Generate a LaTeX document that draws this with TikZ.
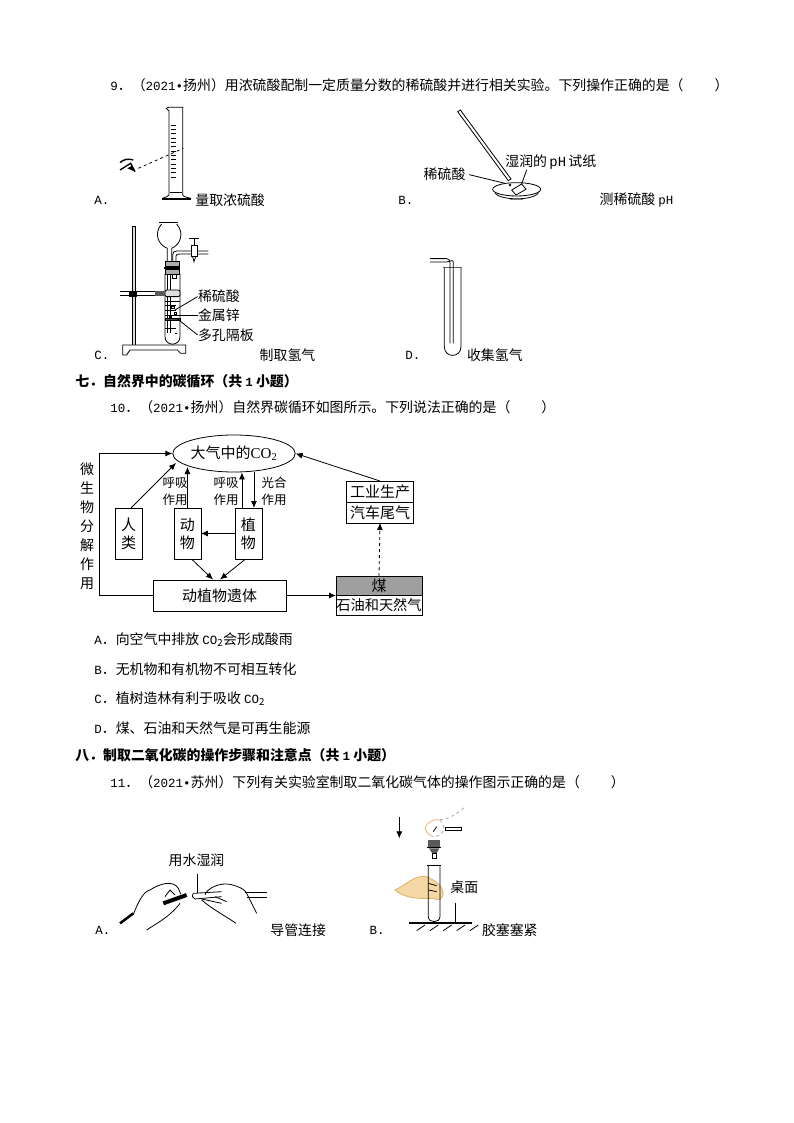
\documentclass[tikz,border=0pt]{standalone}
\usepackage{fontspec}
\setmainfont{Noto Sans CJK SC}
\setmonofont{Liberation Mono}
\newfontfamily\latinserif{Liberation Serif}
\usetikzlibrary{positioning}
\usetikzlibrary{arrows.meta}
\usetikzlibrary{shapes.geometric}
\definecolor{skin}{HTML}{F3CE8C}
\tikzset{>={Latex[length=7pt,width=6pt]}}
\tikzset{txt/.style={anchor=west, inner sep=0pt, font=\fontsize{13.9}{16}\selectfont}}
\tikzset{head/.style={txt, font=\fontsize{13.9}{16}\selectfont\bfseries}}
\tikzset{small/.style={inner sep=0pt, align=center, font=\fontsize{12.5}{17}\selectfont}}
\tikzset{bx/.style={draw, inner sep=0pt, outer sep=0pt, align=center, font=\fontsize{15}{18}\selectfont}}
\tikzset{artq/.style={shift={(70,70)}, x=0.3333pt, y=-0.3333pt}}
\tikzset{artb/.style={shift={(390,70)}, x=0.3333pt, y=-0.3333pt}}
\tikzset{artc/.style={shift={(90,795)}, x=0.3333pt, y=-0.3333pt}}
\newcommand{\lat}[1]{{\ttfamily\fontsize{12.5}{16}\selectfont #1}}

\begin{document}
\begin{tikzpicture}[x=1pt, y=-1pt, line width=0.8pt]
             \useasboundingbox (0,0) rectangle (794,1123);

             \node (q9) [txt] at (110,85) {\lat{9}．（\lat{2021•}扬州）用浓硫酸配制一定质量分数的稀硫酸并进行相关实验。下列操作正确的是（\hspace{31pt}）};
             \node (h7) [head] at (75,381) {七．自然界中的碳循环（共 \lat{1} 小题）};
             \node (q10) [txt] at (110,407) {\lat{10}．（\lat{2021•}扬州）自然界碳循环如图所示。下列说法正确的是（\hspace{31pt}）};
             \node (a10) [txt] at (94,640) {\lat{A}．向空气中排放 \lat{CO}\textsubscript{2}会形成酸雨};
             \node (b10) [txt] at (94,669) {\lat{B}．无机物和有机物不可相互转化};
             \node (c10) [txt] at (94,699) {\lat{C}．植树造林有利于吸收 \lat{CO}\textsubscript{2}};
             \node (d10) [txt] at (94,728) {\lat{D}．煤、石油和天然气是可再生能源};
             \node (h8) [head] at (75,755) {八．制取二氧化碳的操作步骤和注意点（共 \lat{1} 小题）};
             \node (q11) [txt] at (110,782) {\lat{11}．（\lat{2021•}苏州）下列有关实验室制取二氧化碳气体的操作图示正确的是（\hspace{31pt}）};

             % carbon cycle
             \node (co2) [draw, ellipse, minimum width=118pt, minimum height=37pt, inner sep=0pt, font=\fontsize{15}{18}\selectfont] at (234,453.5) {大气中的{\latinserif CO\textsubscript{2}}};
             \node (renlei) [bx, minimum width=27.5pt, minimum height=51pt] at (128.7,533.5) {人\\类};
             \node (dongwu) [bx, minimum width=27pt, minimum height=51pt, right=31.5pt of renlei] {动\\物};
             \node (zhiwu) [bx, minimum width=27pt, minimum height=51pt, right=34pt of dongwu] {植\\物};
             \node (yiti) [bx, minimum width=133pt, minimum height=31pt] at (219.5,595.5) {动植物遗体};
             \node (gongye) [bx, minimum width=67pt, minimum height=21pt] at (380,491.5) {工业生产};
             \node (qiche) [bx, minimum width=67pt, minimum height=21pt, below=0pt of gongye] {汽车尾气};
             \node (mei) [bx, fill=gray!75, minimum width=86pt, minimum height=19pt] at (379,585.5) {煤};
             \node (shiyou) [bx, minimum width=86pt, minimum height=20pt, below=0pt of mei, font=\fontsize{14.2}{16}\selectfont] {石油和天然气};

             \node (huxia) [small] at (175,491.5) {呼吸\\作用};
             \node (huxib) [small] at (226,491.5) {呼吸\\作用};
             \node (guang) [small] at (274,491.5) {光合\\作用};
             \node (weisheng) [inner sep=0pt, align=center, font=\fontsize{14}{19}\selectfont] at (87,526) {微\\生\\物\\分\\解\\作\\用};

             \coordinate (bend) at (99.3,595.5);
             \coordinate (co2a) at (176,463);
             \coordinate (co2b) at (188.5,467);
             \coordinate (yitia) at (213,579.5);
             \coordinate (yitib) at (220,579.5);
             \draw [->] (yiti.west) -- (bend) |- (co2.west);
             \draw [->] (131,508) -- (co2a);
             \draw [->] (dongwu.north) -- (dongwu.north |- co2b);
             \draw [->] ([xshift=-6.5pt]zhiwu.north) -- ([xshift=-6.5pt]zhiwu.north |- co2.south);
             \draw [->] ([xshift=5.5pt]zhiwu.north |- co2.south) -- ([xshift=5.5pt]zhiwu.north);
             \draw [->] (zhiwu.west) -- (dongwu.east);
             \draw [->] (192,559.5) -- (yitia);
             \draw [->] (245,559.5) -- (yitib);
             \draw [->] (yiti.east) -- (yiti.east -| mei.west);
             \draw [->, dashed] (mei.north) -- (qiche.south);
             \draw [->] (gongye.north) -- (co2.east);

             % question 9, A
             \begin{scope}[artq]
                 \draw (288,115) -- (297,122) -- (297,375);
                 \draw (288,115) -- (297,112) -- (338,112) -- (338,375);
                 \draw (297,375) .. controls (295,380) and (285,382) .. (277,385);
                 \draw (338,375) .. controls (340,380) and (352,382) .. (362,385);
                 \draw [line width=1.2pt] (277,387) -- (362,387);
                 \draw (300,368) -- (335,368);
                 \foreach \y in {165,178,...,330} \draw (302,\y) -- (318,\y);
                 \draw [dashed] (205,295) -- (340,235);
                 \draw [line width=1.4pt] (150,278) .. controls (160,268) and (175,265) .. (190,270);
                 \draw [line width=1.4pt] (150,300) -- (182,280) -- (195,305);
                 \fill (172,295) -- (185,288) -- (195,305) -- cycle;
                 \node (labela) [txt] at (72,392) {\lat{A.}};
                 \node (laba) [txt] at (375,392) {量取浓硫酸};

                 % C
                 \draw [fill=gray!30] (187,468) rectangle (196,825);
                 \draw [fill=white] (158,825) -- (347,825) -- (347,850) -- (332,850) -- (322,840) -- (180,840) -- (170,855) -- (158,855) -- cycle;
                 \draw (150,665) -- (262,665) (150,675) -- (262,675);
                 \fill (178,663) rectangle (200,680);
                 \draw [line width=1.6pt] (268,458) -- (325,458);
                 \draw (275,462) .. controls (250,490) and (265,525) .. (292,535) -- (292,575);
                 \draw (320,462) .. controls (345,490) and (330,525) .. (305,535) -- (305,575);
                 \draw (308,575) -- (308,555) .. controls (308,547) and (312,543) .. (320,543) -- (415,543);
                 \draw (318,575) -- (318,558) .. controls (318,553) and (322,552) .. (330,552) -- (415,552);
                 \draw [fill=white] (364,525) rectangle (381,560);
                 \draw (368,560) -- (372,575) -- (377,560);
                 \draw (372,505) -- (372,525);
                 \draw [line width=1.4pt] (358,505) -- (387,505);
                 \draw [fill=gray!65] (285,575) rectangle (328,590);
                 \draw [line width=1.4pt] (283,594) -- (330,594);
                 \draw [fill=gray!65] (285,598) rectangle (328,612);
                 \draw (285,612) -- (285,800) .. controls (285,830) and (330,830) .. (330,800) -- (330,612);
                 \draw (291,612) -- (291,790) (300,612) -- (300,790);
                 \draw (308,612) -- (308,625) -- (318,625) -- (318,612);
                 \draw [fill=gray!25, rounded corners=2pt] (285,660) rectangle (330,680);
                 \fill [gray!70!black] (255,662) rectangle (285,678);
                 \draw (285,695) -- (330,695);
                 \foreach \y in {705,720,735} \draw (285,\y) -- (318,\y);
                 \draw [fill=gray!60!black] (285,746) rectangle (330,751);
                 \foreach \x/\y in {305/710,312/728,297/738} \draw (\x,\y) rectangle ++(8,6);
                 \draw (285,775) -- (318,775);
                 \draw (315,790) -- (322,790);

                 \node (xishuo) [txt] at (383,680) {稀硫酸};
                 \node (xin) [txt] at (383,737) {金属锌};
                 \node (geban) [txt] at (383,795) {多孔隔板};
                 \coordinate (xia) at (315,720);
                 \coordinate (xib) at (290,737);
                 \coordinate (xic) at (320,745);
                 \draw (xishuo.west) -- (xia);
                 \draw (xin.west) -- (xib);
                 \draw (geban.west) -- (xic);
                 \node (labelc) [txt] at (72,855) {\lat{C.}};
                 \node (labc) [txt] at (568,855) {制取氢气};
             \end{scope}

             % B and D
             \begin{scope}[artb]
                 \draw (203,125) -- (211,120) -- (363,327) -- (355,332) -- cycle;
                 \fill (360,345) circle [radius=4];
                 \draw (380,358) ellipse [x radius=72, y radius=20];
                 \draw (315,370) .. controls (335,392) and (425,392) .. (445,370);
                 \draw [line width=1.2pt, gray] (360,389) -- (398,389);
                 \draw [fill=white] (365,360) -- (395,342) -- (408,358) -- (378,375) -- cycle;
                 \node (labelb) [txt] at (24,392) {\lat{B.}};
                 \node (xib) [txt] at (100,312) {稀硫酸};
                 \node (shirun) [txt] at (345,275) {湿润的\,{\ttfamily pH}\,试纸};
                 \coordinate (dishb) at (345,340);
                 \coordinate (paperb) at (395,342);
                 \draw (xib.east) ++(10,2) -- (dishb);
                 \draw (410,300) -- (paperb);
                 \node (labb) [txt] at (628,390) {测稀硫酸 \lat{pH}};

                 \draw (163,592) -- (163,830) .. controls (163,865) and (213,865) .. (213,830) -- (213,592);
                 \draw [line width=1.4pt, gray!70!black] (160,592) -- (216,592);
                 \draw (180,820) -- (180,578) .. controls (180,570) and (176,566) .. (170,566) -- (120,566);
                 \draw (190,820) -- (190,578) .. controls (190,566) and (182,575) .. (170,576) -- (120,576);
                 \node (labeld) [txt] at (45,855) {\lat{D.}};
                 \node (labd) [txt] at (230,855) {收集氢气};
             \end{scope}

             % question 11
             \begin{scope}[artc]
                 \draw [line width=2.5pt] (90,385) -- (130,355);
                 \draw (130,358) .. controls (145,320) and (160,290) .. (180,285) .. controls (210,265) and (250,255) .. (265,280) -- (272,297);
                 \draw (170,405) .. controls (200,385) and (240,365) .. (270,325);
                 \draw (225,305) -- (240,285) -- (255,300);
                 \draw [line width=4pt] (220,325) -- (290,300);
                 \draw (310,295) -- (395,290);
                 \draw (315,312) -- (395,305);
                 \draw (310,295) .. controls (305,303) and (308,310) .. (315,312);
                 \draw (345,300) .. controls (350,280) and (390,262) .. (420,268) .. controls (450,275) and (470,285) .. (475,305) -- (500,355);
                 \draw (335,315) .. controls (370,345) and (410,365) .. (438,385);
                 \draw (335,312) -- (395,325) (375,305) -- (410,320);
                 \draw (465,292) -- (530,292) (470,306) -- (530,306);
                 \node (runshi) [txt] at (235,195) {用水湿润};
                 \coordinate (guanA) at (322,295);
                 \draw (322,238) -- (guanA);
                 \node (labelaa) [txt] at (15,405) {\lat{A.}};
                 \node (daoguan) [txt] at (540,405) {导管连接};

                 \draw [->] (928,65) -- (928,130);
                 \draw [gray!70, dashed] (1050,75) .. controls (1080,70) and (1105,55) .. (1125,35);
                 \draw [gray!70, dashed] (1050,75) .. controls (1060,85) and (1075,120) .. (1030,125);
                 \draw [skin!70!brown] (1005,100) .. controls (1010,80) and (1035,70) .. (1050,75);
                 \draw [skin!70!brown] (1005,100) .. controls (1010,115) and (1020,122) .. (1030,125);
                 \draw (1065,96) rectangle (1115,106);
                 \draw (1040,95) -- (1030,110);
                 \fill [gray!70!black] (1015,135) rectangle (1050,155);
                 \draw [line width=1.2pt] (1012,158) -- (1053,158);
                 \fill [gray!70!black] (1017,160) -- (1048,160) -- (1040,175) -- (1027,175) -- cycle;
                 \draw (1027,175) rectangle (1038,190);
                 \draw [skin!60!brown, fill=skin!80] (915,285) .. controls (945,272) and (975,238) .. (1010,245) .. controls (1030,255) and (1055,265) .. (1060,295) .. controls (1060,310) and (1045,320) .. (1030,310) .. controls (1000,310) and (950,315) .. (915,285) -- cycle;
                 \draw (1012,210) -- (1053,210);
                 \draw (1015,210) -- (1015,365) .. controls (1015,385) and (1050,385) .. (1050,365) -- (1050,210);
                 \draw (1015,265) -- (1040,272) (1015,285) -- (1040,290);
                 \draw [line width=2pt] (958,385) -- (1145,385);
                 \foreach \x in {980,1020,1060,1100,1140} \draw (\x,407) -- (\x+25,390);
                 \coordinate (zhuo) at (1097,383);
                 \draw (1097,325) -- (zhuo);
                 \node (zhuomian) [txt] at (1080,278) {桌面};
                 \node (labelbb) [txt] at (838,405) {\lat{B.}};
                 \node (saijin) [txt] at (1175,405) {胶塞塞紧};
             \end{scope}
\end{tikzpicture}
\end{document}
